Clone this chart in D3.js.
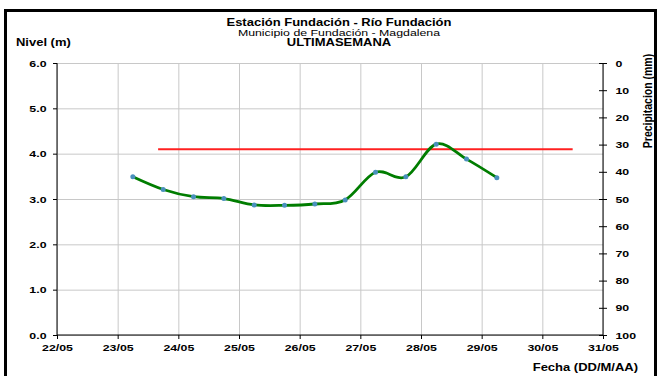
<!DOCTYPE html>
<html>
<head>
<meta charset="utf-8">
<script src="https://cdn.jsdelivr.net/npm/d3@7"></script>
<style>
  body { margin: 0; background: #fff; }
  text { font-family: "Liberation Sans", Arial, sans-serif; }
  .axis text { font-size: 9.5px; font-weight: bold; fill: #000; }
  .axis path, .axis line { stroke: #000; }
  .grid line { stroke: #c8c8c8; }
  .grid path { display: none; }
</style>
</head>
<body>
<svg id="chart" width="661" height="376"></svg>
<script>
"use strict";

var parseTime = d3.timeParse('%d/%m %H:%M');

// lecturas cada 12 horas
var horas = ['23/05 06:00', '23/05 18:00', '24/05 06:00', '24/05 18:00', '25/05 06:00',
  '25/05 18:00', '26/05 06:00', '26/05 18:00', '27/05 06:00', '27/05 18:00',
  '28/05 06:00', '28/05 18:00', '29/05 06:00'];
var nivel = [3.49, 3.21, 3.05, 3.01, 2.87, 2.86, 2.89, 2.98, 3.59, 3.49, 4.21, 3.88, 3.47];

// umbral de alerta
var umbral_horas = ['23/05 16:00', '30/05 12:00'];
var umbral_nivel = 4.1;

var dias = ['22/05 00:00', '31/05 00:00'];
var nivel_ticks = [0, 1, 2, 3, 4, 5, 6];
var precip_ticks = [0, 10, 20, 30, 40, 50, 60, 70, 80, 90, 100];

// the original image is stretched sideways, so the text is too
var SX = 1.3;

function _stretch(sel, sx) {
  sel.each(function () {
    var t = d3.select(this);
    var x = +t.attr('x') || 0;
    var tr = t.attr('transform') || '';
    t.attr('x', x / sx).attr('transform', tr + ' scale(' + sx + ',1)');
  });
}

function _label(svg, x, y, txt, size, bold, anchor) {
  var t = svg.append('text')
    .attr('x', x).attr('y', y)
    .attr('text-anchor', anchor)
    .style('font-size', size + 'px')
    .style('font-weight', bold ? 'bold' : 'normal')
    .text(txt);
  _stretch(t, SX);
  return t;
}

function draw() {
  var svg = d3.select('#chart');
  var margin = { top: 63, right: 58, bottom: 41, left: 57 };
  var width = 661 - margin.left - margin.right;
  var height = 376 - margin.top - margin.bottom;

  svg.append('rect')
    .attr('x', 5.5).attr('y', 10.5)
    .attr('width', 650).attr('height', 380)
    .attr('fill', 'none').attr('stroke', '#000').attr('stroke-width', 3);

  var plot = svg.append('g')
    .attr('transform', 'translate(' + margin.left + ',' + margin.top + ')');

  var X = d3.scaleTime().range([0, width]).domain(dias.map(parseTime));
  var Y = d3.scaleLinear().range([height, 0]).domain([0, 6]);
  var P = d3.scaleLinear().range([0, height]).domain([0, 100]);

  plot.append('g')
    .attr('class', 'grid')
    .attr('transform', 'translate(0,' + height + ')')
    .call(d3.axisBottom(X).ticks(d3.timeDay.every(1)).tickSize(-height).tickFormat(''));
  plot.append('g')
    .attr('class', 'grid')
    .call(d3.axisLeft(Y).tickValues(nivel_ticks).tickSize(-width).tickFormat(''));

  var xaxis = plot.append('g')
    .attr('class', 'axis x')
    .attr('transform', 'translate(0,' + height + ')')
    .call(d3.axisBottom(X).ticks(d3.timeDay.every(1)).tickSize(4).tickPadding(5)
      .tickFormat(d3.timeFormat('%d/%m')));
  xaxis.select('.domain').attr('d', 'M0,0H' + width);

  var yaxis = plot.append('g')
    .attr('class', 'axis y')
    .call(d3.axisLeft(Y).tickValues(nivel_ticks).tickSize(4).tickPadding(6.5)
      .tickFormat(d3.format('.1f')));
  yaxis.select('.domain').attr('d', 'M0,0V' + height);

  var paxis = plot.append('g')
    .attr('class', 'axis p')
    .attr('transform', 'translate(' + width + ',0)')
    .call(d3.axisRight(P).tickValues(precip_ticks).tickSize(4).tickPadding(8.5));
  paxis.select('.domain').attr('d', 'M0,0V' + height);
  paxis.selectAll('.tick line').attr('x1', -4);

  _stretch(plot.selectAll('.axis text'), SX);

  // umbral
  plot.append('line')
    .attr('x1', X(parseTime(umbral_horas[0])))
    .attr('x2', X(parseTime(umbral_horas[1])))
    .attr('y1', Y(umbral_nivel)).attr('y2', Y(umbral_nivel))
    .attr('stroke', '#ff2020').attr('stroke-width', 2);

  var data = horas.map(function (h, i) {
    return { date: parseTime(h), nivel: nivel[i] };
  });

  var line = d3.line()
    .x(function (d) { return X(d.date); })
    .y(function (d) { return Y(d.nivel); })
    .curve(d3.curveCardinal.tension(0));

  plot.append('path')
    .datum(data)
    .attr('d', line)
    .attr('fill', 'none')
    .attr('stroke', '#007d00')
    .attr('stroke-width', 2.8);

  plot.selectAll('circle.pt')
    .data(data)
    .enter().append('circle')
    .attr('class', 'pt')
    .attr('cx', function (d) { return X(d.date); })
    .attr('cy', function (d) { return Y(d.nivel); })
    .attr('r', 2.5)
    .attr('fill', '#4a90bd');

  // textos
  _label(svg, 339, 26, 'Estación Fundación - Río Fundación', 10, true, 'middle');
  _label(svg, 339, 36, 'Municipio de Fundación - Magdalena', 9.5, false, 'middle');
  _label(svg, 339, 46, 'ULTIMASEMANA', 10, true, 'middle');
  _label(svg, 16, 46, 'Nivel (m)', 10, true, 'start');
  _label(svg, 638, 371, 'Fecha (DD/M/AA)', 10, true, 'end');

  svg.append('text')
    .attr('transform', 'translate(651.5,101) scale(' + SX + ',1) rotate(-90)')
    .attr('text-anchor', 'middle')
    .style('font-size', '10.5px').style('font-weight', 'bold')
    .text('Precipitacion (mm)');
}

draw();
</script>
</body>
</html>
